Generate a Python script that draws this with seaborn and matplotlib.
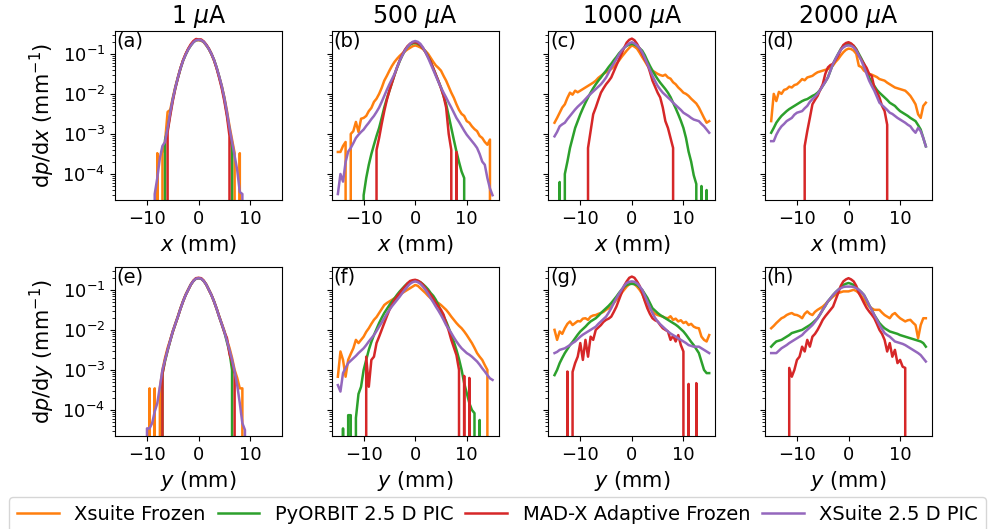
import matplotlib
matplotlib.use("Agg")
import matplotlib.pyplot as plt
import seaborn as sns
import pandas as pd

# histogram bin centres (mm), shared by every panel
bins_mm = [-15.0, -14.5, -14.0, -13.5, -13.0, -12.5, -12.0, -11.5, -11.0, -10.5,
           -10.0, -9.5, -9.0, -8.5, -8.0, -7.5, -7.0, -6.5, -6.0, -5.5,
           -5.0, -4.5, -4.0, -3.5, -3.0, -2.5, -2.0, -1.5, -1.0, -0.5,
           0.0, 0.5, 1.0, 1.5, 2.0, 2.5, 3.0, 3.5, 4.0, 4.5,
           5.0, 5.5, 6.0, 6.5, 7.0, 7.5, 8.0, 8.5, 9.0, 9.5,
           10.0, 10.5, 11.0, 11.5, 12.0, 12.5, 13.0, 13.5, 14.0, 14.5,
           15.0]

# values below are log10 of dp/dx or dp/dy (mm^-1), N = empty bin
N = None

# (a) x, 1 uA
a_xsf = [N, N, N, N, N, N, N, N, N, N,
         N, N, N, N, -3.48, N, -3.48, -3.2, -2.45, -2.4,
         -2.1, -1.82, -1.58, -1.35, -1.16, -1.01, -0.88, -0.78, -0.70, -0.66,
         -0.66, -0.67, -0.71, -0.79, -0.88, -1.01, -1.16, -1.35, -1.57, -1.80,
         -2.08, -2.42, -2.8, -3.14, -3.48, N, -3.48, N, N, N,
         N, N, N, N, N, N, N, N, N, N,
         N]
a_pyo = [N, N, N, N, N, N, N, N, N, N,
         N, N, N, N, N, N, N, -3.15, -2.9, -2.5,
         -2.14, -1.85, -1.6, -1.37, -1.17, -1.02, -0.89, -0.79, -0.71, -0.66,
         -0.65, -0.66, -0.70, -0.78, -0.88, -1.00, -1.15, -1.34, -1.57, -1.82,
         -2.12, -2.5, -2.9, -3.35, N, N, N, N, N, N,
         N, N, N, N, N, N, N, N, N, N,
         N]
a_madx = [N, N, N, N, N, N, N, N, N, N,
          N, N, N, N, N, N, N, N, -2.95, -2.55,
          -2.18, -1.86, -1.6, -1.36, -1.16, -1.0, -0.87, -0.76, -0.68, -0.63,
          -0.64, -0.64, -0.69, -0.77, -0.87, -1.0, -1.16, -1.36, -1.6, -1.86,
          -2.18, -2.55, -3.05, N, N, N, N, N, N, N,
          N, N, N, N, N, N, N, N, N, N,
          N]
a_xsp = [N, N, N, N, N, N, N, N, N, N,
         N, N, N, -4.5, -4.1, -3.6, -3.3, -3.2, -2.85, -2.47,
         -2.13, -1.84, -1.59, -1.36, -1.17, -1.02, -0.89, -0.79, -0.71, -0.66,
         -0.65, -0.66, -0.70, -0.78, -0.88, -1.00, -1.15, -1.34, -1.56, -1.80,
         -2.10, -2.45, -2.85, -3.2, -3.55, -3.9, -4.45, -4.5, N, N,
         N, N, N, N, N, N, N, N, N, N,
         N]

# (b) x, 500 uA
b_xsf = [-3.45, -3.45, -3.3, -3.2, N, -3.0, -2.93, -2.7, -2.95, -2.62,
         -2.6, -2.55, -2.43, -2.35, -2.2, -2.12, -2.0, -1.85, -1.67, -1.55,
         -1.42, -1.3, -1.2, -1.12, -1.05, -0.99, -0.94, -0.89, -0.85, -0.81,
         -0.79, -0.81, -0.84, -0.88, -0.93, -1.0, -1.1, -1.2, -1.29, -1.35,
         -1.42, -1.55, -1.67, -1.82, -1.97, -2.1, -2.26, -2.4, -2.5, -2.55,
         -2.68, -2.72, -2.81, -2.88, -2.93, -3.05, -3.1, -3.2, -3.27, -3.14,
         N]
b_pyo = [N, N, N, N, N, N, N, N, N, N,
         -4.53, -4.1, -3.77, -3.5, -3.27, -3.05, -2.85, -2.6, -2.34, -2.12,
         -1.92, -1.72, -1.52, -1.34, -1.18, -1.04, -0.92, -0.83, -0.77, -0.74,
         -0.73, -0.75, -0.79, -0.86, -0.95, -1.07, -1.2, -1.36, -1.52, -1.68,
         -1.84, -2.05, -2.26, -2.55, -2.85, -3.15, -3.44, -3.7, -3.94, -4.1,
         N, N, N, N, N, N, N, N, N, N,
         N]
b_madx = [N, N, N, N, N, N, N, N, N, N,
          N, N, N, N, N, -3.4, -3.1, -2.75, -2.43, -2.15,
          -1.92, -1.72, -1.52, -1.33, -1.16, -1.02, -0.9, -0.81, -0.75, -0.72,
          -0.71, -0.73, -0.78, -0.86, -0.96, -1.08, -1.2, -1.36, -1.52, -1.68,
          -1.86, -2.05, -2.34, -3.0, -3.4, N, -3.45, N, N, N,
          N, N, N, N, N, N, N, N, N, N,
          N]
b_xsp = [-4.5, -4.0, -4.19, -3.7, -3.44, -3.35, -3.23, -3.1, -3.02, -2.95,
         -2.89, -2.8, -2.72, -2.63, -2.55, -2.45, -2.34, -2.2, -2.05, -1.9,
         -1.76, -1.63, -1.5, -1.33, -1.17, -1.04, -0.92, -0.83, -0.75, -0.70,
         -0.68, -0.70, -0.75, -0.84, -0.96, -1.1, -1.25, -1.4, -1.55, -1.7,
         -1.84, -1.97, -2.09, -2.22, -2.34, -2.47, -2.6, -2.7, -2.81, -2.92,
         -3.02, -3.1, -3.18, -3.26, -3.35, -3.5, -3.69, -3.77, -4.1, -4.36,
         -4.53]

# (c) x, 1000 uA
c_xsf = [-2.72, -2.6, -2.47, -2.34, -2.26, -2.1, -1.97, -2.02, -1.92, -1.96,
         -1.92, -1.88, -1.84, -1.8, -1.76, -1.72, -1.67, -1.6, -1.55, -1.5,
         -1.46, -1.42, -1.38, -1.32, -1.25, -1.17, -1.08, -1.0, -0.92, -0.85,
         -0.79, -0.82, -0.87, -0.97, -1.08, -1.18, -1.29, -1.36, -1.42, -1.46,
         -1.5, -1.53, -1.55, -1.52, -1.59, -1.62, -1.71, -1.76, -1.84, -1.9,
         -1.97, -2.0, -2.05, -2.12, -2.18, -2.24, -2.34, -2.47, -2.6, -2.72,
         -2.68]
c_pyo = [N, N, -4.2, N, -4.0, -3.69, -3.35, -3.1, -2.85, -2.68,
         -2.51, -2.36, -2.22, -2.09, -1.97, -1.86, -1.76, -1.67, -1.59, -1.5,
         -1.42, -1.33, -1.25, -1.16, -1.08, -0.99, -0.92, -0.85, -0.8, -0.77,
         -0.75, -0.77, -0.8, -0.86, -0.92, -1.03, -1.17, -1.3, -1.42, -1.53,
         -1.63, -1.72, -1.8, -1.88, -1.97, -2.08, -2.22, -2.36, -2.51, -2.67,
         -2.85, -3.1, -3.44, -3.69, -4.03, -4.25, N, -4.3, N, -4.4,
         N]
c_madx = [N, N, N, N, N, N, N, N, N, N,
          N, N, N, -3.35, -2.93, -2.51, -2.34, -2.15, -1.97, -1.86,
          -1.76, -1.68, -1.59, -1.44, -1.29, -1.14, -1.0, -0.85, -0.72, -0.65,
          -0.62, -0.66, -0.75, -0.87, -1.0, -1.14, -1.25, -1.45, -1.67, -1.82,
          -1.97, -2.09, -2.34, -2.68, -2.85, -3.1, -3.35, N, N, N,
          N, N, N, N, N, N, N, N, N, N,
          N]
c_xsp = [-3.06, -2.95, -2.81, -2.76, -2.72, -2.63, -2.55, -2.47, -2.39, -2.32,
         -2.26, -2.2, -2.13, -2.06, -2.0, -1.94, -1.88, -1.82, -1.76, -1.68,
         -1.59, -1.47, -1.34, -1.24, -1.13, -1.02, -0.92, -0.85, -0.79, -0.74,
         -0.71, -0.74, -0.79, -0.86, -0.96, -1.1, -1.25, -1.4, -1.55, -1.68,
         -1.8, -1.89, -1.97, -2.03, -2.09, -2.15, -2.22, -2.28, -2.34, -2.4,
         -2.47, -2.51, -2.55, -2.6, -2.64, -2.66, -2.68, -2.75, -2.81, -2.89,
         -2.97]

# (d) x, 2000 uA
d_xsf = [-2.68, -2.0, -2.18, -1.95, -2.0, -1.9, -1.88, -1.82, -1.84, -1.78,
         -1.76, -1.7, -1.63, -1.66, -1.59, -1.57, -1.55, -1.5, -1.46, -1.44,
         -1.42, -1.4, -1.38, -1.33, -1.29, -1.2, -1.13, -1.04, -0.96, -0.9,
         -0.87, -0.88, -0.92, -1.0, -1.3, -1.33, -1.42, -1.46, -1.5, -1.52,
         -1.55, -1.58, -1.63, -1.65, -1.67, -1.72, -1.76, -1.8, -1.84, -1.86,
         -1.88, -1.9, -1.92, -1.98, -2.05, -2.15, -2.26, -2.51, -2.6, -2.3,
         -2.22]
d_pyo = [-2.97, -2.85, -2.72, -2.63, -2.55, -2.49, -2.43, -2.38, -2.34, -2.3,
         -2.26, -2.22, -2.18, -2.15, -2.13, -2.09, -2.05, -2.02, -1.97, -1.9,
         -1.8, -1.7, -1.59, -1.42, -1.25, -1.12, -1.0, -0.88, -0.8, -0.76,
         -0.75, -0.76, -0.8, -0.88, -1.0, -1.12, -1.25, -1.42, -1.59, -1.7,
         -1.8, -1.9, -1.97, -2.03, -2.09, -2.15, -2.22, -2.26, -2.3, -2.37,
         -2.43, -2.47, -2.51, -2.55, -2.6, -2.64, -2.68, -2.78, -2.89, -3.1,
         -3.31]
d_madx = [N, N, N, N, N, N, N, N, N, N,
          N, N, N, -3.3, -2.93, -2.6, -2.26, -2.15, -2.05, -1.9,
          -1.76, -1.5, -1.34, -1.28, -1.25, -1.15, -1.04, -0.9, -0.78, -0.73,
          -0.71, -0.74, -0.8, -0.9, -1.04, -1.15, -1.25, -1.35, -1.5, -1.55,
          -1.84, -1.95, -2.09, -2.3, -2.43, -2.77, N, N, N, N,
          N, N, N, N, N, N, N, N, N, N,
          N]
d_xsp = [-3.18, -3.18, -3.02, -2.9, -2.81, -2.75, -2.68, -2.64, -2.6, -2.52,
         -2.47, -2.45, -2.43, -2.36, -2.3, -2.2, -2.13, -2.07, -2.0, -1.9,
         -1.8, -1.7, -1.59, -1.42, -1.25, -1.12, -1.0, -0.9, -0.84, -0.8,
         -0.79, -0.8, -0.84, -0.92, -1.04, -1.17, -1.33, -1.5, -1.67, -1.8,
         -1.92, -2.07, -2.22, -2.28, -2.34, -2.4, -2.47, -2.5, -2.55, -2.6,
         -2.64, -2.68, -2.72, -2.77, -2.81, -2.9, -2.97, -2.85, -2.93, -3.1,
         -3.31]

# (e) y, 1 uA
e_xsf = [N, N, N, N, N, N, N, N, N, N,
         N, -3.46, N, -3.46, N, -3.46, -3.0, -2.7, -2.45, -2.25,
         -2.03, -1.84, -1.66, -1.46, -1.28, -1.12, -0.99, -0.87, -0.78, -0.72,
         -0.71, -0.72, -0.78, -0.87, -1.0, -1.13, -1.29, -1.47, -1.66, -1.84,
         -2.02, -2.25, -2.45, -2.7, -3.0, -3.2, -3.46, -3.46, N, N,
         N, N, N, N, N, N, N, N, N, N,
         N]
e_pyo = [N, N, N, N, N, N, N, N, N, N,
         N, N, N, N, N, N, -3.1, -2.78, -2.52, -2.28,
         -2.05, -1.86, -1.67, -1.47, -1.29, -1.13, -1.0, -0.87, -0.78, -0.72,
         -0.71, -0.72, -0.78, -0.87, -1.0, -1.13, -1.29, -1.47, -1.67, -1.86,
         -2.05, -2.3, -2.55, -3.0, N, N, N, N, N, N,
         N, N, N, N, N, N, N, N, N, N,
         N]
e_madx = [N, N, N, N, N, N, N, N, N, N,
          N, N, N, N, N, N, -3.1, -2.75, -2.5, -2.27,
          -2.05, -1.86, -1.67, -1.47, -1.29, -1.13, -1.0, -0.87, -0.77, -0.71,
          -0.7, -0.71, -0.77, -0.87, -1.0, -1.13, -1.29, -1.47, -1.67, -1.86,
          -2.06, -2.2, -2.6, -2.8, -3.1, N, N, N, N, N,
          N, N, N, N, N, N, N, N, N, N,
          N]
e_xsp = [N, N, N, N, N, N, N, N, N, N,
         -4.46, -4.46, -4.33, -4.04, -3.83, -3.42, -3.0, -2.75, -2.5, -2.27,
         -2.04, -1.85, -1.67, -1.47, -1.29, -1.13, -1.0, -0.87, -0.78, -0.72,
         -0.71, -0.72, -0.78, -0.87, -1.0, -1.13, -1.29, -1.47, -1.67, -1.85,
         -2.04, -2.27, -2.5, -2.75, -3.04, -3.38, -3.83, -4.33, -4.5, N,
         N, N, N, N, N, N, N, N, N, N,
         N]

# (f) y, 500 uA
f_xsf = [-3.17, -2.54, -2.75, -3.17, -2.75, -2.6, -2.46, -2.25, -2.33, -2.25,
         -2.17, -2.05, -1.96, -1.85, -1.75, -1.68, -1.58, -1.48, -1.38, -1.33,
         -1.29, -1.25, -1.21, -1.17, -1.13, -1.08, -1.04, -1.0, -0.96, -0.92,
         -0.88, -0.9, -0.96, -1.02, -1.08, -1.15, -1.21, -1.25, -1.29, -1.33,
         -1.38, -1.44, -1.5, -1.58, -1.67, -1.75, -1.83, -1.9, -1.96, -2.04,
         -2.13, -2.23, -2.33, -2.45, -2.58, -2.67, -2.75, -2.88, -3.0, N,
         N]
f_pyo = [N, N, -4.46, N, -4.13, -4.13, N, -4.2, -3.6, -3.42,
         -3.0, -2.75, -2.5, -2.3, -2.13, -1.98, -1.83, -1.7, -1.58, -1.48,
         -1.38, -1.29, -1.21, -1.12, -1.04, -0.97, -0.9, -0.84, -0.8, -0.78,
         -0.77, -0.78, -0.81, -0.86, -0.92, -0.99, -1.08, -1.15, -1.25, -1.38,
         -1.54, -1.66, -1.79, -1.95, -2.13, -2.3, -2.5, -2.73, -3.0, -3.33,
         -3.58, -3.83, -4.0, -4.08, N, -4.25, N, N, N, N,
         N]
f_madx = [N, N, N, N, N, N, N, N, N, N,
          N, -2.67, -3.42, -2.75, -2.67, -2.33, -2.17, -2.0, -1.83, -1.66,
          -1.5, -1.37, -1.25, -1.16, -1.08, -0.99, -0.92, -0.84, -0.78, -0.76,
          -0.75, -0.77, -0.81, -0.87, -0.96, -1.04, -1.12, -1.22, -1.33, -1.42,
          -1.5, -1.62, -1.83, -2.02, -2.25, -2.44, -2.63, -3.0, N, -3.15,
          N, -3.2, N, N, N, N, N, N, N, N,
          N]
f_xsp = [-3.38, -3.54, -3.08, -2.95, -2.83, -2.77, -2.71, -2.65, -2.58, -2.52,
         -2.46, -2.38, -2.29, -2.21, -2.13, -2.03, -1.92, -1.82, -1.71, -1.6,
         -1.5, -1.41, -1.33, -1.25, -1.17, -1.08, -1.0, -0.92, -0.85, -0.81,
         -0.79, -0.81, -0.85, -0.92, -1.0, -1.1, -1.21, -1.31, -1.42, -1.52,
         -1.63, -1.75, -1.88, -1.98, -2.08, -2.19, -2.29, -2.38, -2.46, -2.52,
         -2.58, -2.62, -2.67, -2.73, -2.79, -2.87, -2.96, -3.04, -3.13, -3.21,
         -3.25]

# (g) y, 1000 uA
g_xsf = [-2.0, -2.25, -2.04, -2.1, -1.96, -1.85, -1.79, -1.88, -1.83, -1.78,
         -1.79, -1.72, -1.71, -1.75, -1.67, -1.64, -1.63, -1.6, -1.58, -1.55,
         -1.5, -1.46, -1.42, -1.33, -1.25, -1.17, -1.08, -1.0, -0.92, -0.86,
         -0.83, -0.86, -0.92, -1.0, -1.1, -1.25, -1.38, -1.46, -1.54, -1.6,
         -1.63, -1.65, -1.67, -1.7, -1.71, -1.66, -1.75, -1.72, -1.79, -1.76,
         -1.83, -1.8, -1.88, -1.85, -1.92, -1.95, -1.96, -2.17, -2.25, -2.29,
         -2.13]
g_pyo = [-3.13, -3.0, -2.83, -2.7, -2.58, -2.48, -2.38, -2.3, -2.21, -2.12,
         -2.04, -1.98, -1.92, -1.85, -1.79, -1.75, -1.71, -1.65, -1.58, -1.52,
         -1.46, -1.4, -1.33, -1.25, -1.17, -1.08, -1.0, -0.93, -0.88, -0.86,
         -0.85, -0.86, -0.88, -0.94, -1.0, -1.1, -1.2, -1.33, -1.46, -1.52,
         -1.58, -1.63, -1.67, -1.71, -1.75, -1.79, -1.83, -1.87, -1.92, -1.98,
         -2.04, -2.12, -2.21, -2.3, -2.38, -2.48, -2.58, -2.79, -3.0, -3.08,
         -3.08]
g_madx = [N, N, N, N, N, -3.04, N, -3.05, -2.83, -2.67,
          -2.33, -2.75, -2.25, -2.67, -2.17, -2.25, -2.0, -1.94, -1.88, -1.8,
          -1.75, -1.72, -1.67, -1.55, -1.42, -1.25, -1.08, -0.9, -0.79, -0.7,
          -0.67, -0.7, -0.79, -0.9, -1.08, -1.28, -1.46, -1.6, -1.71, -1.76,
          -1.79, -1.88, -1.96, -2.0, -2.04, -2.25, -2.15, -2.29, -2.13, -2.38,
          -2.54, N, -3.35, N, N, -3.33, N, N, N, N,
          N]
g_xsp = [-2.58, -2.55, -2.5, -2.48, -2.46, -2.42, -2.38, -2.33, -2.29, -2.23,
         -2.17, -2.12, -2.08, -2.04, -2.0, -1.96, -1.92, -1.85, -1.79, -1.73,
         -1.67, -1.57, -1.46, -1.33, -1.21, -1.1, -1.0, -0.9, -0.83, -0.8,
         -0.79, -0.8, -0.84, -0.91, -1.0, -1.14, -1.29, -1.44, -1.58, -1.7,
         -1.79, -1.86, -1.92, -1.98, -2.04, -2.09, -2.13, -2.17, -2.21, -2.25,
         -2.29, -2.33, -2.38, -2.4, -2.42, -2.42, -2.42, -2.46, -2.5, -2.54,
         -2.58]

# (h) y, 2000 uA
h_xsf = [-1.96, -1.9, -1.83, -1.77, -1.71, -1.68, -1.63, -1.6, -1.58, -1.62,
         -1.63, -1.66, -1.71, -1.6, -1.54, -1.6, -1.63, -1.55, -1.5, -1.46,
         -1.42, -1.36, -1.29, -1.23, -1.17, -1.12, -1.08, -1.06, -1.04, -1.04,
         -1.04, -1.02, -1.0, -1.03, -1.08, -1.16, -1.25, -1.33, -1.42, -1.46,
         -1.5, -1.5, -1.5, -1.57, -1.63, -1.67, -1.71, -1.62, -1.58, -1.65,
         -1.71, -1.75, -1.79, -1.76, -1.75, -1.82, -1.88, -2.21, -1.88, -1.71,
         -1.71]
h_pyo = [-2.42, -2.35, -2.29, -2.27, -2.25, -2.21, -2.17, -2.13, -2.08, -2.06,
         -2.04, -2.02, -2.0, -1.96, -1.92, -1.88, -1.83, -1.77, -1.71, -1.61,
         -1.5, -1.4, -1.29, -1.21, -1.13, -1.06, -1.0, -0.94, -0.88, -0.85,
         -0.83, -0.85, -0.88, -0.94, -1.0, -1.06, -1.13, -1.25, -1.38, -1.5,
         -1.63, -1.73, -1.83, -1.9, -1.96, -2.0, -2.04, -2.06, -2.08, -2.1,
         -2.13, -2.15, -2.17, -2.19, -2.21, -2.23, -2.25, -2.27, -2.29, -2.33,
         -2.42]
h_madx = [N, N, N, N, N, N, N, -2.95, -3.17, -3.0,
          -2.75, -2.67, -2.42, -2.54, -2.25, -2.42, -2.17, -2.1, -2.0, -1.88,
          -1.75, -1.66, -1.58, -1.5, -1.42, -1.25, -1.08, -0.9, -0.79, -0.74,
          -0.71, -0.74, -0.79, -0.9, -1.08, -1.2, -1.33, -1.45, -1.54, -1.62,
          -1.71, -1.85, -2.0, -2.1, -2.25, -2.54, -2.33, -2.67, -2.5, -2.83,
          -2.75, -2.92, -2.95, N, N, N, N, N, N, N,
          N]
h_xsp = [-2.58, -2.58, -2.58, -2.52, -2.46, -2.42, -2.38, -2.33, -2.29, -2.25,
         -2.21, -2.17, -2.13, -2.06, -2.0, -1.94, -1.88, -1.8, -1.71, -1.61,
         -1.5, -1.4, -1.29, -1.21, -1.13, -1.06, -1.0, -0.96, -0.93, -0.92,
         -0.92, -0.92, -0.93, -0.96, -1.0, -1.06, -1.13, -1.25, -1.38, -1.5,
         -1.63, -1.75, -1.88, -1.98, -2.08, -2.13, -2.17, -2.23, -2.29, -2.31,
         -2.33, -2.35, -2.38, -2.42, -2.46, -2.5, -2.54, -2.58, -2.63, -2.71,
         -2.79]

codes = ['Xsuite Frozen', 'PyORBIT 2.5 D PIC', 'MAD-X Adaptive Frozen', 'XSuite 2.5 D PIC']
colors = {'Xsuite Frozen': 'tab:orange', 'PyORBIT 2.5 D PIC': 'tab:green',
          'MAD-X Adaptive Frozen': 'tab:red', 'XSuite 2.5 D PIC': 'tab:purple'}
currents = [r'1 $\mu$A', r'500 $\mu$A', r'1000 $\mu$A', r'2000 $\mu$A']

panels = [
    [('a', [a_xsf, a_pyo, a_madx, a_xsp]), ('b', [b_xsf, b_pyo, b_madx, b_xsp]),
     ('c', [c_xsf, c_pyo, c_madx, c_xsp]), ('d', [d_xsf, d_pyo, d_madx, d_xsp])],
    [('e', [e_xsf, e_pyo, e_madx, e_xsp]), ('f', [f_xsf, f_pyo, f_madx, f_xsp]),
     ('g', [g_xsf, g_pyo, g_madx, g_xsp]), ('h', [h_xsf, h_pyo, h_madx, h_xsp])],
]
planes = ['x', 'y']


def to_density(lg):
    # empty bins become 0 -> clipped to the bottom on the log axis
    return [0.0 if v is None else 10.0 ** v for v in lg]


fig = plt.figure(figsize=(9.89, 5.29), dpi=100)
axes = fig.subplots(2, 4, sharey=True)
fig.subplots_adjust(left=0.1163, right=0.9424, top=0.9414, bottom=0.1758,
                    wspace=0.297, hspace=0.396)

for r in range(2):
    for c in range(4):
        ax = axes[r, c]
        letter, series = panels[r][c]
        frames = []
        for name, lg in zip(codes, series):
            frames.append(pd.DataFrame({'pos': bins_mm, 'density': to_density(lg), 'code': name}))
        df = pd.concat(frames, ignore_index=True)
        sns.lineplot(data=df, x='pos', y='density', hue='code', hue_order=codes,
                     palette=colors, estimator=None, sort=False, legend=False,
                     linewidth=1.8, ax=ax)
        ax.set_yscale('log')
        ax.set_xlim(-16.2, 16.2)
        ax.set_ylim(10 ** -4.65, 10 ** -0.43)
        ax.set_xticks([-10, 0, 10])
        ax.tick_params(labelsize=13)
        ax.set_xlabel(f'${planes[r]}$ (mm)', fontsize=15)
        if c == 0:
            ax.set_ylabel(f'd$p$/d${planes[r]}$ (mm$^{{-1}}$)', fontsize=15)
        else:
            ax.set_ylabel('')
        if r == 0:
            ax.set_title(currents[c], fontsize=17)
        ax.text(0.01, 0.995, f'({letter})', transform=ax.transAxes,
                ha='left', va='top', fontsize=14)

handles = axes[0, 0].get_lines()[:4]
fig.legend(handles, codes, loc='upper center', bbox_to_anchor=(0.503, 1 - 497 / 529),
           ncol=4, fontsize=14, columnspacing=0.6, handlelength=2.15,
           borderaxespad=0)

fig.savefig('out.png', dpi=100)
